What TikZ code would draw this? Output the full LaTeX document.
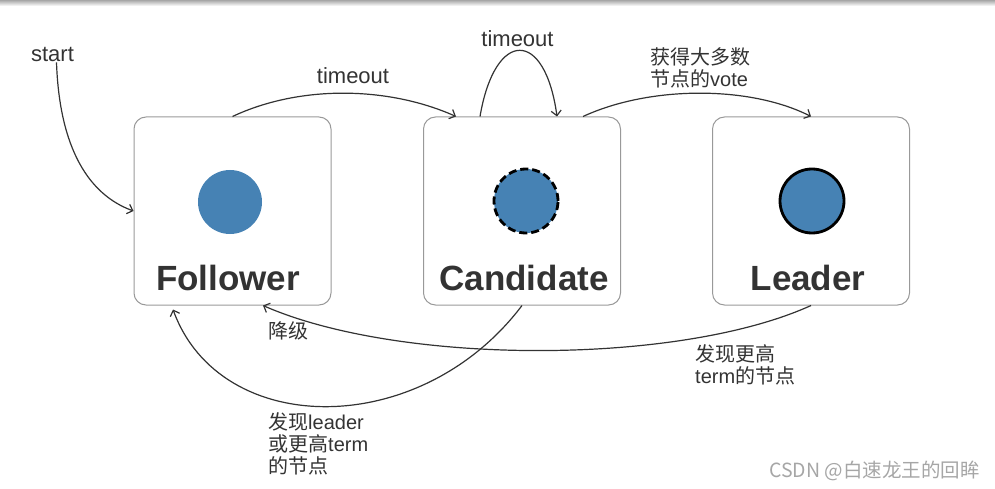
\documentclass[tikz,border=0pt]{standalone}
\usepackage{fontspec}
\setmainfont{Liberation Sans}
\newfontfamily\cjk{Noto Sans CJK SC}
\usetikzlibrary{arrows.meta}
\definecolor{raftblue}{RGB}{70,130,180}

\begin{document}
\begin{tikzpicture}[
  x=1pt, y=-1pt,
  raftbox/.style = {draw=black!40, line width=1pt, rounded corners=12pt,
    minimum width=197pt, minimum height=188pt, inner sep=0pt},
  raftdot/.style = {circle, fill=raftblue, minimum size=64pt, inner sep=0pt},
  raftname/.style = {font=\fontsize{35}{40}\selectfont\bfseries, text=black!80,
    anchor=base, inner sep=0pt},
  raftlbl/.style = {font=\fontsize{20}{22}\selectfont, text=black!80,
    inner sep=0pt, align=left},
  rafttxt/.style = {font=\fontsize{22}{24}\selectfont, text=black!80,
    inner sep=0pt, anchor=base},
  raftarr/.style = {-{Straight Barb[length=5pt,width=10pt]}, line width=1.2pt, black!80}
]
  \useasboundingbox (0,0) rectangle (995,489);
  \shade[top color=black!35, bottom color=white] (0,0) rectangle (995,6);
  % 三个状态
  \node[raftbox] (follower) at (232.5,211) {};
  \node[raftbox] (candidate) at (522,211) {};
  \node[raftbox] (leader) at (811,211) {};
  \node[raftdot] (fdot) at (230,202) {};
  \node[raftdot, draw=black, line width=2.8pt, dash pattern=on 8pt off 4pt]
    (cdot) at (526,201) {};
  \node[raftdot, draw=black, line width=2.8pt] (ldot) at (812,201) {};
  \node[raftname] (fname) at (228,290) {Follower};
  \node[raftname] (cname) at (524,290) {Candidate};
  \node[raftname] (lname) at (808,290) {Leader};
  % 标签
  \node[rafttxt] (start) at (52.5,62) {start};
  \node[rafttxt] (tofc) at (353,84) {timeout};
  \node[rafttxt] (tocc) at (517.5,47) {timeout};
  \node[raftlbl, anchor=north west] (vote) at (650,47)
    {{\cjk 获得大多数}\\{\cjk 节点的}vote};
  \node[raftlbl, anchor=base west] (down) at (268,338) {\cjk 降级};
  \node[raftlbl, anchor=north west] (higher) at (695,344)
    {{\cjk 发现更高}\\term{\cjk 的节点}};
  \node[raftlbl, anchor=north west] (found) at (268,412)
    {{\cjk 发现}leader\\{\cjk 或更高}term\\{\cjk 的节点}};
  \node[font=\cjk\fontsize{19.5}{20}\selectfont, text=black!35, anchor=base east,
    inner sep=0pt] (mark) at (980,477) {CSDN @白速龙王的回眸};
  % 转换
  \draw[raftarr] ([xshift=4pt]start.south) .. controls +(3,87) and +(-44,-16)
    .. (follower.west);
  \draw[raftarr] (follower.north) .. controls +(68,-32) and +(-67,-30)
    .. ([xshift=33pt]candidate.north west);
  \draw[raftarr] ([xshift=-42pt]candidate.north) .. controls +(15,-88) and +(-12,-88)
    .. ([xshift=35pt]candidate.north);
  \draw[raftarr] ([xshift=61pt]candidate.north) .. controls +(67,-31) and +(-61,-31)
    .. (leader.north);
  \draw[raftarr] (candidate.south) .. controls +(-102,135) and +(47,129)
    .. ([xshift=-59.5pt,yshift=-4pt]follower.south);
  \draw[raftarr] (leader.south) .. controls +(-132,60) and +(137,60)
    .. ([xshift=30.5pt]follower.south);
\end{tikzpicture}
\end{document}
